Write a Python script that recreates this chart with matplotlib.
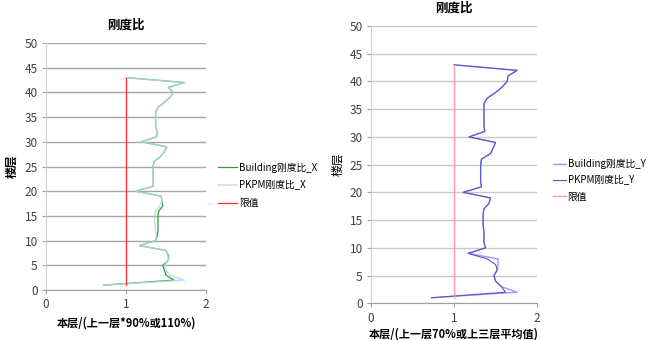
import matplotlib.pyplot as plt
import numpy as np

plt.rcParams['font.family'] = ['Noto Sans CJK SC', 'DejaVu Sans']

floors = np.arange(1, 44)

# X direction stiffness ratio
building_x = [0.72, 1.60, 1.50, 1.48, 1.46, 1.53, 1.53, 1.50, 1.17, 1.37,
              1.39, 1.40, 1.40, 1.40, 1.40, 1.41, 1.46, 1.45, 1.44, 1.12,
              1.34, 1.34, 1.34, 1.34, 1.34, 1.35, 1.43, 1.48, 1.51, 1.19,
              1.38, 1.39, 1.37, 1.37, 1.37, 1.37, 1.40, 1.48, 1.55, 1.59,
              1.53, 1.73, 1.00]
pkpm_x = [0.72, 1.73, 1.55, 1.50, 1.48, 1.53, 1.54, 1.50, 1.17, 1.37,
          1.38, 1.37, 1.36, 1.36, 1.36, 1.37, 1.42, 1.45, 1.44, 1.12,
          1.34, 1.34, 1.34, 1.34, 1.34, 1.35, 1.43, 1.48, 1.51, 1.19,
          1.38, 1.39, 1.37, 1.37, 1.37, 1.37, 1.40, 1.48, 1.55, 1.59,
          1.53, 1.73, 1.00]

# Y direction stiffness ratio
building_y = [0.73, 1.76, 1.57, 1.50, 1.48, 1.52, 1.53, 1.53, 1.17, 1.38,
              1.36, 1.36, 1.36, 1.35, 1.35, 1.35, 1.36, 1.42, 1.44, 1.11,
              1.33, 1.32, 1.32, 1.32, 1.32, 1.33, 1.44, 1.47, 1.50, 1.18,
              1.37, 1.36, 1.36, 1.36, 1.36, 1.36, 1.40, 1.50, 1.58, 1.64,
              1.65, 1.76, 1.00]
pkpm_y = [0.73, 1.62, 1.57, 1.50, 1.48, 1.52, 1.50, 1.40, 1.17, 1.38,
          1.36, 1.36, 1.36, 1.35, 1.35, 1.35, 1.36, 1.42, 1.44, 1.11,
          1.33, 1.32, 1.32, 1.32, 1.32, 1.33, 1.44, 1.47, 1.50, 1.18,
          1.37, 1.36, 1.36, 1.36, 1.36, 1.36, 1.40, 1.50, 1.58, 1.64,
          1.65, 1.76, 1.00]

limit = [1.0] * len(floors)

fig = plt.figure(figsize=(6.51, 3.40), dpi=100)
ax1 = fig.add_axes([0.0707, 0.147, 0.2457, 0.7265])
ax2 = fig.add_axes([0.570, 0.108, 0.255, 0.8155])


def style(ax, grid_color):
    ax.set_xlim(0, 2)
    ax.set_ylim(0, 50)
    ax.set_xticks([0, 1, 2])
    ax.set_yticks(range(0, 51, 5))
    ax.yaxis.grid(True, color=grid_color, lw=1.0)
    ax.set_axisbelow(True)
    for s in ['top', 'right']:
        ax.spines[s].set_visible(False)
    ax.spines['left'].set_color('#d0d0d0')
    ax.spines['bottom'].set_color('#a0a0a0')
    ax.tick_params(axis='both', colors='#a0a0a0', labelcolor='#404040',
                   labelsize=8.5, length=3, width=0.8, pad=3)


style(ax1, '#a6a6a6')
l1, = ax1.plot(building_x, floors, color='#2ca02c', lw=0.9)
l2, = ax1.plot(pkpm_x, floors, color='#bcd6ee', lw=1.1, alpha=0.85)
l3, = ax1.plot(limit, floors, color='#ff2a2a', lw=0.9)
ax1.set_title('刚度比', fontsize=9, fontweight='bold', pad=10)
ax1.set_ylabel('楼层', fontsize=8.5, fontweight='bold', labelpad=4)
ax1.set_xlabel('本层/(上一层*90%或110%)', fontsize=8, fontweight='bold')
fig.legend([l1, l2, l3], ['Building刚度比_X', 'PKPM刚度比_X', '限值'],
           loc='center left', bbox_to_anchor=(0.322, 0.455), frameon=False,
           fontsize=7, handlelength=1.9, handletextpad=0.2, labelspacing=0.8)

style(ax2, '#c8c8c8')
r1, = ax2.plot(building_y, floors, color='#9a9aff', lw=1.0)
r2, = ax2.plot(pkpm_y, floors, color='#5656c4', lw=0.8)
r3, = ax2.plot(limit, floors, color='#ffa0a8', lw=1.0)
ax2.set_title('刚度比', fontsize=9, fontweight='bold', pad=10)
ax2.set_ylabel('楼层', fontsize=8.5, labelpad=4)
ax2.set_xlabel('本层/(上一层70%或上三层平均值)', fontsize=8, fontweight='bold', labelpad=2)
fig.legend([r1, r2, r3], ['Building刚度比_Y', 'PKPM刚度比_Y', '限值'],
           loc='center left', bbox_to_anchor=(0.836, 0.47), frameon=False,
           fontsize=7, handlelength=1.3, handletextpad=0.2, labelspacing=0.65)

fig.savefig('out.png', dpi=100)
